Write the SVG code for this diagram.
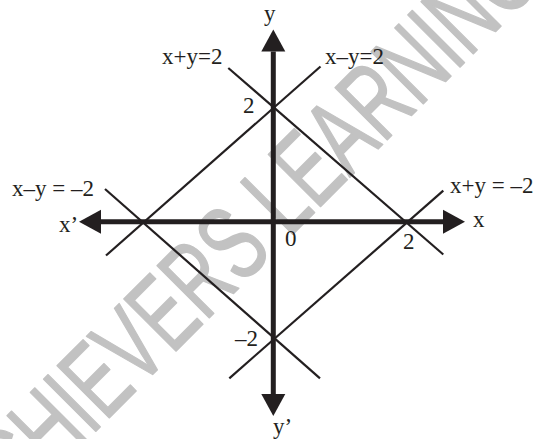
<svg xmlns="http://www.w3.org/2000/svg" width="534" height="439" viewBox="0 0 534 439">
<style>
.lbl{font-family:"Liberation Serif","Times New Roman",serif;font-size:23px;fill:#231f20}
.axis{stroke:#231f20;stroke-width:5;fill:none}
.thin{stroke:#231f20;stroke-width:2.2;fill:none}
.wm{font-family:"Liberation Sans",Arial,sans-serif;font-size:107px;fill:#c2c2c2;stroke:#c2c2c2;stroke-width:1.6;stroke-linejoin:round}
</style>
<defs>
<marker id="arrow" markerUnits="userSpaceOnUse" markerWidth="24" markerHeight="26" refX="0" refY="12" orient="auto-start-reverse" overflow="visible">
<path d="M0,0 L22,12 L0,24 z" fill="#231f20"/>
</marker>
</defs>
<rect width="534" height="439" fill="#ffffff"/>
<g id="watermark">
<text class="wm" transform="translate(-14.5,541.5) rotate(-45)" x="0" y="0" textLength="790" lengthAdjust="spacingAndGlyphs">ACHIEVERS LEARNING</text>
</g>
<g id="connectors">
<line id="x-axis" class="axis" x1="101" y1="221.7" x2="443" y2="221.7" marker-start="url(#arrow)" marker-end="url(#arrow)"/>
<line id="y-axis" class="axis" x1="273.3" y1="51.5" x2="273.3" y2="394" marker-start="url(#arrow)" marker-end="url(#arrow)"/>
<line id="line-xpy2" class="thin" x1="228.3" y1="68" x2="443.3" y2="254.5"/>
<line id="line-xmy2" class="thin" x1="320.5" y1="66.5" x2="106" y2="255.5"/>
<line id="line-xmym2" class="thin" x1="105" y1="189" x2="320" y2="378.3"/>
<line id="line-xpym2" class="thin" x1="443.3" y1="190.7" x2="229.3" y2="378.3"/>
</g>
<g id="labels">
<text class="lbl" x="264" y="21">y</text>
<text class="lbl" x="273" y="434">y’</text>
<text class="lbl" x="473" y="227">x</text>
<text class="lbl" x="59" y="232">x’</text>
<text class="lbl" x="162" y="64">x+y=2</text>
<text class="lbl" x="325" y="64">x–y=2</text>
<text class="lbl" x="12" y="196">x–y = –2</text>
<text class="lbl" x="450" y="193">x+y = –2</text>
<text class="lbl" x="243" y="113">2</text>
<text class="lbl" x="285" y="246">0</text>
<text class="lbl" x="403" y="249">2</text>
<text class="lbl" x="235" y="346">–2</text>
</g>
</svg>
